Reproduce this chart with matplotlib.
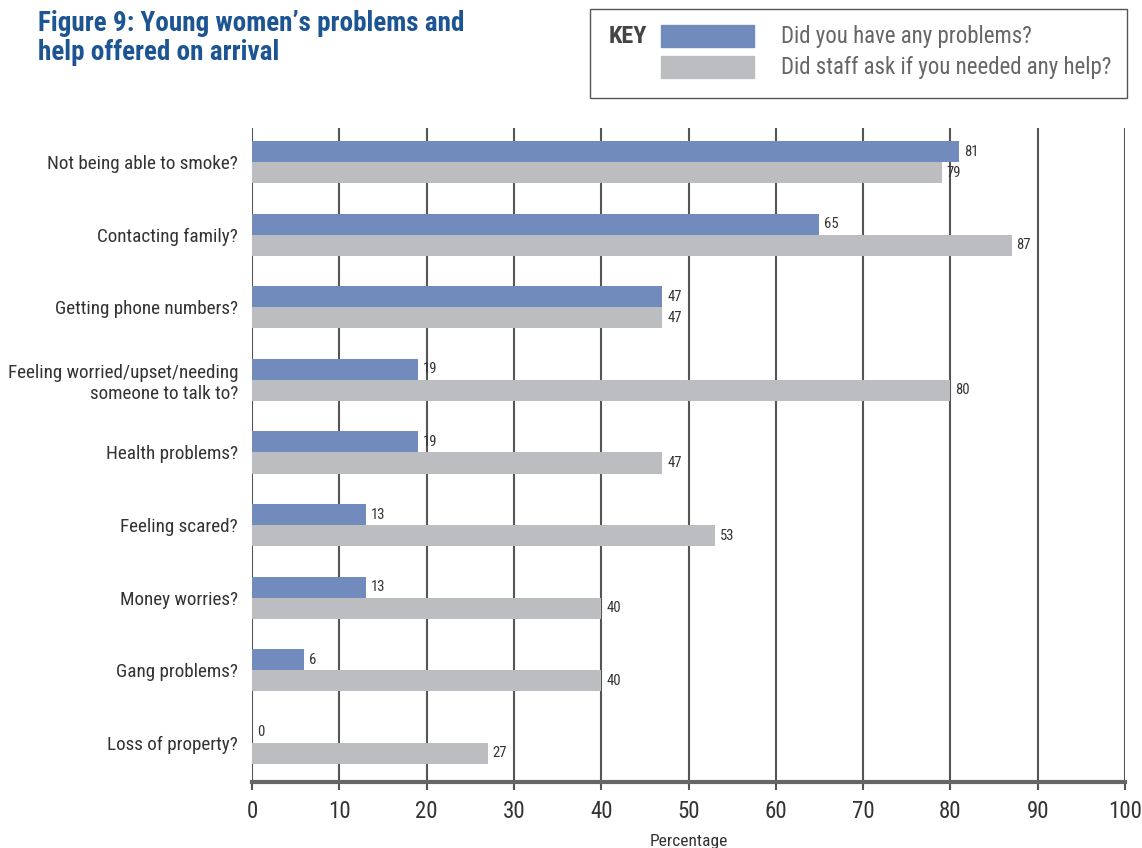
import numpy as np
import matplotlib.pyplot as plt
import matplotlib.patches as mpatches
from matplotlib import font_manager

cats = ['Not being able to smoke?', 'Contacting family?', 'Getting phone numbers?',
        'Feeling worried/upset/needing\nsomeone to talk to?', 'Health problems?',
        'Feeling scared?', 'Money worries?', 'Gang problems?', 'Loss of property?']
problems = [81, 65, 47, 19, 19, 13, 13, 6, 0]
asked = [79, 87, 47, 80, 47, 53, 40, 40, 27]
xticks = [0, 10, 20, 30, 40, 50, 60, 70, 80, 90, 100]

# condensed font, whichever is there
have = set(f.name for f in font_manager.fontManager.ttflist)
cands = ['Roboto Condensed', 'PT Sans Narrow', 'Archivo Narrow', 'Liberation Sans Narrow',
         'Open Sans Condensed', 'DejaVu Sans']
font = [c for c in cands if c in have][0]
plt.rcParams['font.family'] = [font, 'DejaVu Sans']

blue = '#728bbd'
grey = '#bcbdc1'
txt = '#333333'

fig = plt.figure(figsize=(11.42, 8.48), dpi=100)
ax = fig.add_axes([0.2207, 0.0778, 0.7644, 0.7712])

y = np.arange(len(cats))
h = 0.29
ax.barh(y - h/2, problems, height=h, color=blue, zorder=3)
ax.barh(y + h/2, asked, height=h, color=grey, zorder=3)

for i in range(len(cats)):
    ax.annotate(str(problems[i]), (problems[i], y[i] - h/2), xytext=(3.5, 0),
                textcoords='offset points', va='center', ha='left', fontsize=10.5, color=txt)
    ax.annotate(str(asked[i]), (asked[i], y[i] + h/2), xytext=(3.5, 0),
                textcoords='offset points', va='center', ha='left', fontsize=10.5, color=txt)

ax.set_xlim(0, 100)
ax.set_ylim(8.54, -0.47)
ax.set_xticks(xticks)
ax.set_yticks(y)
ax.set_yticklabels(cats, fontsize=13.8, color=txt)
ax.tick_params(axis='y', length=0, pad=10)
ax.tick_params(axis='x', length=6, width=1.5, color='#555555', labelsize=16.5,
               labelcolor=txt, pad=7)
for xv in xticks:
    ax.axvline(xv, color='#555555', lw=1.5, zorder=1)
for s in ['top', 'right', 'left']:
    ax.spines[s].set_visible(False)
ax.spines['bottom'].set_color('#666666')
ax.spines['bottom'].set_linewidth(3)
ax.set_xlabel('Percentage', fontsize=12.5, color=txt, labelpad=8)

fig.text(0.033, 0.988, 'Figure 9: Young women\u2019s problems and\nhelp offered on arrival',
         fontsize=19.5, fontweight='bold', color='#1d5593', va='top', ha='left',
         linespacing=1.1)

# key box
fig.patches.append(mpatches.Rectangle((0.517, 0.885), 0.470, 0.104, transform=fig.transFigure,
                                      fill=False, edgecolor='#555555', lw=1))
fig.text(0.533, 0.957, 'KEY', fontsize=17.5, fontweight='bold', color='#444444', va='center')
fig.patches.append(mpatches.Rectangle((0.579, 0.944), 0.081, 0.026, transform=fig.transFigure,
                                      color=blue))
fig.patches.append(mpatches.Rectangle((0.579, 0.908), 0.081, 0.026, transform=fig.transFigure,
                                      color=grey))
fig.text(0.684, 0.957, 'Did you have any problems?', fontsize=16.5, color='#666666', va='center')
fig.text(0.684, 0.920, 'Did staff ask if you needed any help?', fontsize=16.5, color='#666666',
         va='center')

fig.savefig('out.png', dpi=100)
